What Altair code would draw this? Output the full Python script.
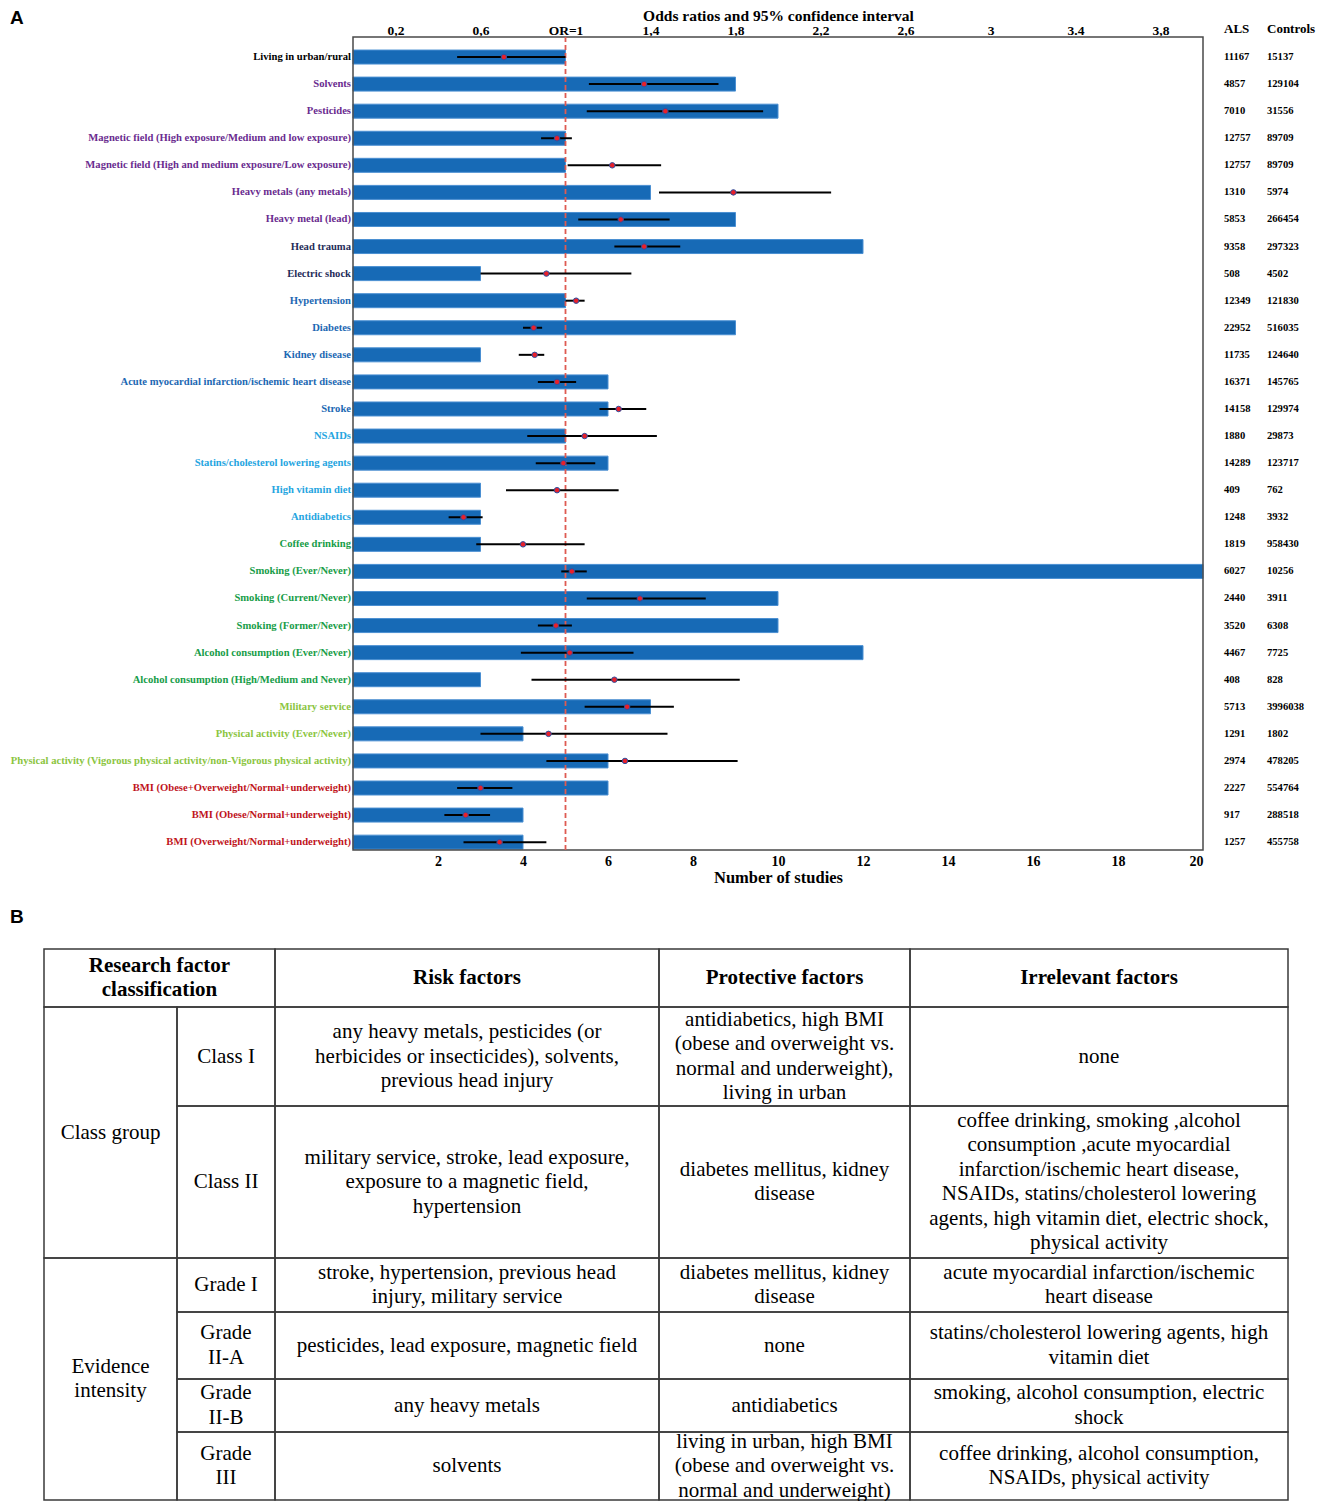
import altair as alt
import numpy as np
import pandas as pd

# ---------------- Panel A data ----------------
factors = [
    "Living in urban/rural",
    "Solvents",
    "Pesticides",
    "Magnetic field (High exposure/Medium and low exposure)",
    "Magnetic field  (High and medium exposure/Low exposure)",
    "Heavy metals (any metals)",
    "Heavy metal (lead)",
    "Head trauma",
    "Electric shock",
    "Hypertension",
    "Diabetes",
    "Kidney disease",
    "Acute myocardial infarction/ischemic heart disease",
    "Stroke",
    "NSAIDs",
    "Statins/cholesterol lowering agents",
    "High vitamin diet",
    "Antidiabetics",
    "Coffee drinking",
    "Smoking (Ever/Never)",
    "Smoking (Current/Never)",
    "Smoking (Former/Never)",
    "Alcohol consumption (Ever/Never)",
    "Alcohol consumption (High/Medium and Never)",
    "Military service",
    "Physical activity  (Ever/Never)",
    "Physical activity (Vigorous physical activity/non-Vigorous physical activity)",
    "BMI (Obese+Overweight/Normal+underweight)",
    "BMI (Obese/Normal+underweight)",
    "BMI (Overweight/Normal+underweight)",
]
groups = (["urban"] + ["environment"] * 6 + ["trauma"] * 2 + ["disease"] * 5
          + ["drugs"] * 4 + ["lifestyle"] * 6 + ["activity"] * 3 + ["bmi"] * 3)
n_studies = [5, 9, 10, 5, 5, 7, 9, 12, 3, 5, 9, 3, 6, 6, 5, 6, 3, 3, 3, 20,
             10, 10, 12, 3, 7, 4, 6, 6, 4, 4]
or_est = [0.71, 1.37, 1.47, 0.96, 1.22, 1.79, 1.26, 1.37, 0.91, 1.05, 0.85, 0.855,
          0.96, 1.25, 1.09, 0.99, 0.96, 0.52, 0.80, 1.03, 1.35, 0.955, 1.02, 1.23,
          1.29, 0.92, 1.28, 0.60, 0.53, 0.69]
or_low = [0.49, 1.11, 1.10, 0.885, 1.01, 1.44, 1.06, 1.23, 0.60, 1.00, 0.80, 0.78,
          0.87, 1.16, 0.82, 0.86, 0.72, 0.45, 0.58, 0.98, 1.10, 0.87, 0.79, 0.84,
          1.09, 0.60, 0.91, 0.49, 0.43, 0.52]
or_high = [1.00, 1.72, 1.93, 1.03, 1.45, 2.25, 1.49, 1.54, 1.31, 1.09, 0.89, 0.90,
           1.05, 1.38, 1.43, 1.14, 1.25, 0.61, 1.09, 1.10, 1.66, 1.03, 1.32, 1.82,
           1.51, 1.48, 1.81, 0.75, 0.645, 0.91]
als_n = [11167, 4857, 7010, 12757, 12757, 1310, 5853, 9358, 508, 12349, 22952,
         11735, 16371, 14158, 1880, 14289, 409, 1248, 1819, 6027, 2440, 3520,
         4467, 408, 5713, 1291, 2974, 2227, 917, 1257]
controls_n = [15137, 129104, 31556, 89709, 89709, 5974, 266454, 297323, 4502,
              121830, 516035, 124640, 145765, 129974, 29873, 123717, 762, 3932,
              958430, 10256, 3911, 6308, 7725, 828, 3996038, 1802, 478205,
              554764, 288518, 455758]

top_tick_values = [0.2, 0.6, 1.0, 1.4, 1.8, 2.2, 2.6, 3.0, 3.4, 3.8]
top_tick_labels = ["0,2", "0,6", "OR=1", "1,4", "1,8", "2,2", "2,6", "3", "3.4", "3,8"]
bottom_tick_values = [2, 4, 6, 8, 10, 12, 14, 16, 18, 20]

group_names = ["urban", "environment", "trauma", "disease", "drugs",
               "lifestyle", "activity", "bmi"]
group_colors = ["#000000", "#6a2c8f", "#1f2d5a", "#1c68b3", "#25a5df",
                "#179d48", "#8bc53f", "#c0141c"]

# ---------------- Panel B data ----------------
cell_texts = [
    "Research factor\nclassification", "Risk factors", "Protective factors", "Irrelevant factors",
    "Class group",
    "Class I",
    "any heavy metals, pesticides (or\nherbicides or insecticides), solvents,\nprevious head injury",
    "antidiabetics, high BMI\n(obese and overweight vs.\nnormal and underweight),\nliving in urban",
    "none",
    "Class II",
    "military service, stroke, lead exposure,\nexposure to a magnetic field,\nhypertension",
    "diabetes mellitus, kidney\ndisease",
    "coffee drinking, smoking ,alcohol\nconsumption ,acute myocardial\ninfarction/ischemic heart disease,\nNSAIDs,   statins/cholesterol lowering\nagents, high vitamin diet, electric shock,\nphysical activity",
    "Evidence\nintensity",
    "Grade I",
    "stroke, hypertension, previous head\ninjury, military service",
    "diabetes mellitus, kidney\ndisease",
    "acute myocardial infarction/ischemic\nheart disease",
    "Grade\nII-A",
    "pesticides, lead exposure, magnetic field",
    "none",
    "statins/cholesterol lowering agents, high\nvitamin diet",
    "Grade\nII-B",
    "any heavy metals",
    "antidiabetics",
    "smoking, alcohol consumption, electric\nshock",
    "Grade\nIII",
    "solvents",
    "living in urban, high BMI\n(obese and overweight vs.\nnormal and underweight)",
    "coffee drinking, alcohol consumption,\nNSAIDs, physical activity",
]
cell_col_start = [0, 2, 3, 4, 0, 1, 2, 3, 4, 1, 2, 3, 4, 0, 1, 2, 3, 4, 1, 2, 3, 4, 1, 2, 3, 4, 1, 2, 3, 4]
cell_col_end = [2, 3, 4, 5, 1, 2, 3, 4, 5, 2, 3, 4, 5, 1, 2, 3, 4, 5, 2, 3, 4, 5, 2, 3, 4, 5, 2, 3, 4, 5]
cell_row_start = [0, 0, 0, 0, 1, 1, 1, 1, 1, 2, 2, 2, 2, 3, 3, 3, 3, 3, 4, 4, 4, 4, 5, 5, 5, 5, 6, 6, 6, 6]
cell_row_end = [1, 1, 1, 1, 3, 2, 2, 2, 2, 3, 3, 3, 3, 7, 4, 4, 4, 4, 5, 5, 5, 5, 6, 6, 6, 6, 7, 7, 7, 7]
cell_is_header = [True] * 4 + [False] * 26

# ---------------- layout / style ----------------
SERIF = "Liberation Serif"
SANS = "Liberation Sans"
W = 1300
H_A = 813
X_RANGE = [345, 1195]
Y_DOMAIN = [-0.74, 29.29]
OR_TO_STUDIES = 5.0  # the OR axis (0-4) spans the same width as the studies axis (0-20)
BAR = "#176ab6"
BAR_EDGE = "#4a8fd2"
FRAME = "#4a4a4a"
ALS_X = 1216
CTL_X = 1259

COL_WIDTHS = [133, 98, 384, 251, 378]
ROW_HEIGHTS = [58, 99, 152, 54, 67, 53, 68]
H_B = 597
TB_X_RANGE = [36, 1280]
TB_Y_RANGE = [46, 597]
TB_FONT = 21
TB_LINE = 24.5

df = pd.DataFrame({
    "factor": factors, "group": groups, "studies": n_studies,
    "or_est": or_est, "lo": or_low, "hi": or_high,
    "als": als_n, "controls": controls_n,
})
df["row"] = np.arange(len(df))
one = pd.DataFrame({"k": [0]})

y_enc = alt.Y("row:Q", scale=alt.Scale(domain=Y_DOMAIN, reverse=True, nice=False, zero=False,
                                       padding=0), axis=None)
x_scale = alt.Scale(domain=[0, 20], range=X_RANGE, nice=False, zero=False, padding=0)

bottom_axis = alt.Axis(orient="bottom", values=bottom_tick_values, title="Number of studies",
                       ticks=False, tickSize=0, domain=False, grid=False,
                       labelFont=SERIF, labelFontWeight="bold", labelFontSize=14, labelColor="black",
                       labelBaseline="middle", labelPadding=11,
                       titleFont=SERIF, titleFontWeight="bold", titleFontSize=16.5,
                       titleColor="black", titlePadding=1)

top_positions = [v * OR_TO_STUDIES for v in top_tick_values]
label_expr = " : ".join(f"abs(datum.value - {p}) < 0.01 ? '{l}'"
                        for p, l in zip(top_positions, top_tick_labels)) + " : ''"
top_axis = alt.Axis(orient="top", values=top_positions, labelExpr=label_expr,
                    title="Odds ratios and 95% confidence interval",
                    ticks=False, tickSize=0, domain=False, grid=False,
                    labelFont=SERIF, labelFontWeight="bold", labelFontSize=13.5, labelColor="black",
                    labelBaseline="middle", labelPadding=7,
                    titleFont=SERIF, titleFontWeight="bold", titleFontSize=15.5,
                    titleColor="black", titlePadding=0)

or_calc = dict(or_pos=f"datum.or_est * {OR_TO_STUDIES}",
               lo_pos=f"datum.lo * {OR_TO_STUDIES}",
               hi_pos=f"datum.hi * {OR_TO_STUDIES}")

bars = alt.Chart(df).mark_bar(orient="horizontal", size=14, fill=BAR, stroke=BAR_EDGE,
                              strokeWidth=1).encode(
    x=alt.X("studies:Q", scale=x_scale, axis=bottom_axis),
    y=y_enc,
)
frame = alt.Chart(one).mark_rect(fill="transparent", stroke=FRAME, strokeWidth=1.5).encode(
    x=alt.X(datum=0, axis=None),
    x2=alt.X2(datum=20),
    y=alt.Y(datum=Y_DOMAIN[0], axis=None),
    y2=alt.Y2(datum=Y_DOMAIN[1]),
)
or_line = alt.Chart(one).mark_rule(color="#de5b52", strokeDash=[5, 3], strokeWidth=1.8).encode(
    x=alt.X(datum=1 * OR_TO_STUDIES, axis=None),
    y=alt.Y(datum=Y_DOMAIN[0], axis=None),
    y2=alt.Y2(datum=Y_DOMAIN[1]),
)
ci = alt.Chart(df).transform_calculate(**or_calc).mark_rule(color="black", strokeWidth=2).encode(
    x=alt.X("lo_pos:Q", axis=top_axis),
    x2="hi_pos:Q",
    y=y_enc,
)
pts = alt.Chart(df).transform_calculate(**or_calc).mark_point(
    filled=True, shape="circle", size=30, fill="#e8202a",
    stroke="#3050a0", strokeWidth=1, opacity=1).encode(
    x=alt.X("or_pos:Q", axis=None),
    y=y_enc,
)
labels = alt.Chart(df).mark_text(align="right", baseline="middle", font=SERIF,
                                 fontWeight="bold", fontSize=10.6).encode(
    x=alt.value(343), y=y_enc, text="factor:N",
    color=alt.Color("group:N", scale=alt.Scale(domain=group_names, range=group_colors), legend=None),
)
als_txt = alt.Chart(df).mark_text(align="left", baseline="middle", font=SERIF,
                                  fontWeight="bold", fontSize=10.6, color="black").encode(
    x=alt.value(ALS_X), y=y_enc, text="als:N")
ctl_txt = alt.Chart(df).mark_text(align="left", baseline="middle", font=SERIF,
                                  fontWeight="bold", fontSize=10.6, color="black").encode(
    x=alt.value(CTL_X), y=y_enc, text="controls:N")
hdr_als = alt.Chart(pd.DataFrame({"h": ["ALS"]})).mark_text(
    align="left", baseline="middle", font=SERIF, fontWeight="bold", fontSize=13, color="black").encode(
    x=alt.value(ALS_X), y=alt.value(-8), text="h:N")
hdr_ctl = alt.Chart(pd.DataFrame({"h": ["Controls"]})).mark_text(
    align="left", baseline="middle", font=SERIF, fontWeight="bold", fontSize=13, color="black").encode(
    x=alt.value(CTL_X), y=alt.value(-8), text="h:N")
letter_a = alt.Chart(pd.DataFrame({"h": ["A"]})).mark_text(
    align="left", baseline="middle", font=SANS, fontWeight="bold", fontSize=19, color="black").encode(
    x=alt.value(2), y=alt.value(-19), text="h:N")

panel_a = alt.layer(
    bars, frame, or_line, ci, pts, labels, als_txt, ctl_txt, hdr_als, hdr_ctl, letter_a,
).resolve_axis(x="independent").properties(width=W, height=H_A)

# ---------------- Panel B (table) ----------------
col_edges = np.concatenate([[0], np.cumsum(COL_WIDTHS)])
row_edges = np.concatenate([[0], np.cumsum(ROW_HEIGHTS)])
tb = pd.DataFrame({
    "text": cell_texts,
    "header": cell_is_header,
    "x0": col_edges[cell_col_start], "x1": col_edges[cell_col_end],
    "y0": row_edges[cell_row_start], "y1": row_edges[cell_row_end],
})
tb["xc"] = (tb["x0"] + tb["x1"]) / 2
n_lines = tb["text"].str.count("\n") + 1
# centre the whole multi-line block on the cell (first line is anchored at y)
tb["yc"] = (tb["y0"] + tb["y1"]) / 2 - (n_lines - 1) * TB_LINE / 2

bx = alt.Scale(domain=[0, int(col_edges[-1])], range=TB_X_RANGE, nice=False, zero=False, padding=0)
by = alt.Scale(domain=[0, int(row_edges[-1])], range=TB_Y_RANGE, nice=False, zero=False, padding=0)

cells = alt.Chart(tb).mark_rect(fill="transparent", stroke="#3a3a3a", strokeWidth=1.5).encode(
    x=alt.X("x0:Q", scale=bx, axis=None), x2="x1:Q",
    y=alt.Y("y0:Q", scale=by, axis=None), y2="y1:Q",
)
txt_body = alt.Chart(tb).transform_filter("!datum.header").mark_text(
    font=SERIF, fontSize=TB_FONT, lineBreak="\n", lineHeight=TB_LINE, align="center",
    baseline="middle", color="black").encode(
    x=alt.X("xc:Q", axis=None), y=alt.Y("yc:Q", axis=None), text="text:N")
txt_head = alt.Chart(tb).transform_filter("datum.header").mark_text(
    font=SERIF, fontSize=TB_FONT, fontWeight="bold", lineBreak="\n", lineHeight=TB_LINE,
    align="center", baseline="middle", color="black").encode(
    x=alt.X("xc:Q", axis=None), y=alt.Y("yc:Q", axis=None), text="text:N")
letter_b = alt.Chart(pd.DataFrame({"h": ["B"]})).mark_text(
    align="left", baseline="middle", font=SANS, fontWeight="bold", fontSize=19, color="black").encode(
    x=alt.value(2), y=alt.value(14), text="h:N")

panel_b = alt.layer(cells, txt_body, txt_head, letter_b).properties(width=W, height=H_B)

chart = alt.vconcat(panel_a, panel_b, spacing=17).properties(
    padding={"left": 0, "top": 0, "right": 0, "bottom": 0}, background="white"
).configure_view(stroke=None)

chart.save("out.html", embed_options={"renderer": "svg", "actions": False})
